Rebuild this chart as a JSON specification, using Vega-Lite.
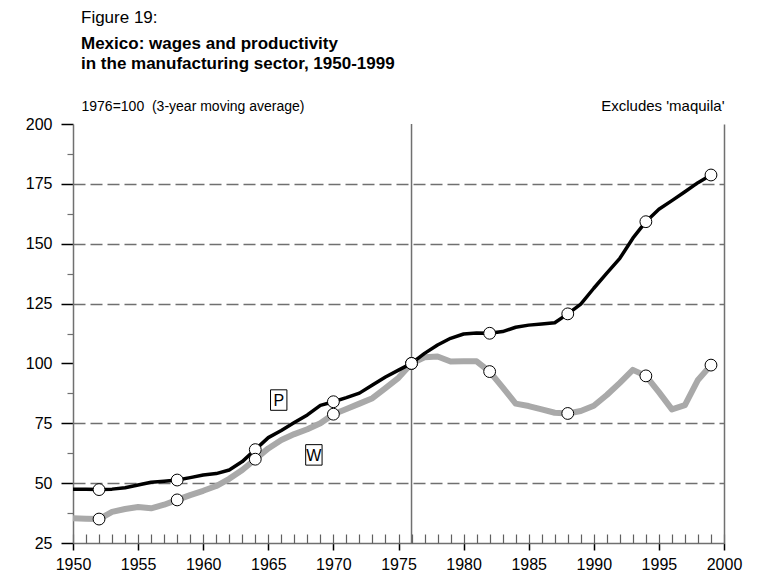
{
  "$schema": "https://vega.github.io/schema/vega-lite/v6.json",
  "width": 651,
  "height": 419,
  "autosize": {"type": "none"},
  "padding": {"left": 73, "top": 124, "right": 53, "bottom": 38},
  "background": "white",
  "config": {
    "font": "Liberation Sans",
    "view": {"stroke": null}
  },
  "title": {
    "text": "Figure 19:",
    "subtitle": ["Mexico: wages and productivity", "in the manufacturing sector, 1950-1999"],
    "anchor": "start",
    "frame": "group",
    "dx": 8,
    "font": "Liberation Sans",
    "subtitleFont": "Liberation Sans",
    "fontSize": 17,
    "fontWeight": "normal",
    "color": "black",
    "subtitleFontSize": 17,
    "subtitleFontWeight": "bold",
    "subtitleColor": "black",
    "subtitlePadding": 9,
    "subtitleLineHeight": 20,
    "offset": 25
  },
  "datasets": {
    "series": [
      {"year": 1950, "series": "P", "value": 47.4}, {"year": 1951, "series": "P", "value": 47.4},
      {"year": 1952, "series": "P", "value": 47.3}, {"year": 1953, "series": "P", "value": 47.5},
      {"year": 1954, "series": "P", "value": 48.1}, {"year": 1955, "series": "P", "value": 49.2},
      {"year": 1956, "series": "P", "value": 50.4}, {"year": 1957, "series": "P", "value": 50.8},
      {"year": 1958, "series": "P", "value": 51.3}, {"year": 1959, "series": "P", "value": 52.3},
      {"year": 1960, "series": "P", "value": 53.4}, {"year": 1961, "series": "P", "value": 54.0},
      {"year": 1962, "series": "P", "value": 55.5}, {"year": 1963, "series": "P", "value": 59.0},
      {"year": 1964, "series": "P", "value": 64.0}, {"year": 1965, "series": "P", "value": 69.0},
      {"year": 1966, "series": "P", "value": 72.0}, {"year": 1967, "series": "P", "value": 75.3},
      {"year": 1968, "series": "P", "value": 78.5}, {"year": 1969, "series": "P", "value": 82.5},
      {"year": 1970, "series": "P", "value": 84.0}, {"year": 1971, "series": "P", "value": 85.7},
      {"year": 1972, "series": "P", "value": 87.6}, {"year": 1973, "series": "P", "value": 91.0},
      {"year": 1974, "series": "P", "value": 94.3}, {"year": 1975, "series": "P", "value": 97.2},
      {"year": 1976, "series": "P", "value": 100.0}, {"year": 1977, "series": "P", "value": 104.2},
      {"year": 1978, "series": "P", "value": 107.7}, {"year": 1979, "series": "P", "value": 110.5},
      {"year": 1980, "series": "P", "value": 112.3}, {"year": 1981, "series": "P", "value": 112.7},
      {"year": 1982, "series": "P", "value": 112.6}, {"year": 1983, "series": "P", "value": 113.3},
      {"year": 1984, "series": "P", "value": 115.1}, {"year": 1985, "series": "P", "value": 116.0},
      {"year": 1986, "series": "P", "value": 116.5}, {"year": 1987, "series": "P", "value": 117.0},
      {"year": 1988, "series": "P", "value": 120.7}, {"year": 1989, "series": "P", "value": 124.8},
      {"year": 1990, "series": "P", "value": 131.4}, {"year": 1991, "series": "P", "value": 137.7},
      {"year": 1992, "series": "P", "value": 143.9}, {"year": 1993, "series": "P", "value": 152.3},
      {"year": 1994, "series": "P", "value": 159.2}, {"year": 1995, "series": "P", "value": 164.4},
      {"year": 1996, "series": "P", "value": 168.0}, {"year": 1997, "series": "P", "value": 171.7},
      {"year": 1998, "series": "P", "value": 175.5}, {"year": 1999, "series": "P", "value": 178.7},
      {"year": 1950, "series": "W", "value": 35.3}, {"year": 1951, "series": "W", "value": 35.1},
      {"year": 1952, "series": "W", "value": 35.0}, {"year": 1953, "series": "W", "value": 38.0},
      {"year": 1954, "series": "W", "value": 39.2}, {"year": 1955, "series": "W", "value": 40.0},
      {"year": 1956, "series": "W", "value": 39.5}, {"year": 1957, "series": "W", "value": 41.0},
      {"year": 1958, "series": "W", "value": 43.0}, {"year": 1959, "series": "W", "value": 45.0},
      {"year": 1960, "series": "W", "value": 46.8}, {"year": 1961, "series": "W", "value": 48.8},
      {"year": 1962, "series": "W", "value": 51.8}, {"year": 1963, "series": "W", "value": 55.5},
      {"year": 1964, "series": "W", "value": 60.0}, {"year": 1965, "series": "W", "value": 64.5},
      {"year": 1966, "series": "W", "value": 68.0}, {"year": 1967, "series": "W", "value": 70.5},
      {"year": 1968, "series": "W", "value": 72.5}, {"year": 1969, "series": "W", "value": 75.0},
      {"year": 1970, "series": "W", "value": 78.8}, {"year": 1971, "series": "W", "value": 81.0},
      {"year": 1972, "series": "W", "value": 83.2}, {"year": 1973, "series": "W", "value": 85.5},
      {"year": 1974, "series": "W", "value": 89.7}, {"year": 1975, "series": "W", "value": 94.0},
      {"year": 1976, "series": "W", "value": 100.0}, {"year": 1977, "series": "W", "value": 102.6},
      {"year": 1978, "series": "W", "value": 102.9}, {"year": 1979, "series": "W", "value": 100.8},
      {"year": 1980, "series": "W", "value": 100.9}, {"year": 1981, "series": "W", "value": 100.9},
      {"year": 1982, "series": "W", "value": 96.6}, {"year": 1983, "series": "W", "value": 90.0},
      {"year": 1984, "series": "W", "value": 83.2}, {"year": 1985, "series": "W", "value": 82.2},
      {"year": 1986, "series": "W", "value": 80.8}, {"year": 1987, "series": "W", "value": 79.4},
      {"year": 1988, "series": "W", "value": 79.1}, {"year": 1989, "series": "W", "value": 80.1},
      {"year": 1990, "series": "W", "value": 82.3}, {"year": 1991, "series": "W", "value": 86.8},
      {"year": 1992, "series": "W", "value": 91.9}, {"year": 1993, "series": "W", "value": 97.3},
      {"year": 1994, "series": "W", "value": 94.8}, {"year": 1995, "series": "W", "value": 88.0},
      {"year": 1996, "series": "W", "value": 80.8}, {"year": 1997, "series": "W", "value": 82.6},
      {"year": 1998, "series": "W", "value": 93.1}, {"year": 1999, "series": "W", "value": 99.3}
    ],
    "labels": [
      {"label": "P", "year": 1965.8, "value": 84.7},
      {"label": "W", "year": 1968.5, "value": 61.8}
    ]
  },
  "layer": [
    {
      "layer": [
        {
          "data": {"name": "series"},
          "transform": [{"filter": "datum.series === 'W' && datum.year === 1976"}],
          "mark": {"type": "rule", "color": "#707070", "strokeWidth": 1.5},
          "encoding": {
            "x": {
              "field": "year", "type": "quantitative",
              "scale": {"domain": [1950, 2000], "nice": false, "zero": false},
              "axis": {
                "values": [1950, 1955, 1960, 1965, 1970, 1975, 1980, 1985, 1990, 1995, 2000],
                "format": "d",
                "labelOverlap": false,
                "labelBound": false,
                "labelFlush": false,
                "labelFontSize": 16,
                "labelColor": "black",
                "labelPadding": 6,
                "title": null,
                "grid": false,
                "domain": true,
                "domainColor": "#707070",
                "domainWidth": 1.5,
                "ticks": true,
                "tickWidth": 1.5,
                "tickSize": 7,
                "tickColor": "black"
              }
            }
          }
        },
        {
          "data": {"name": "series"},
          "transform": [{"filter": "datum.series === 'W'"}],
          "mark": {"type": "line", "color": "#a9a9a9", "strokeWidth": 6, "strokeJoin": "round"},
          "encoding": {
            "x": {"field": "year", "type": "quantitative"},
            "y": {
              "field": "value", "type": "quantitative",
              "scale": {"domain": [25, 200], "nice": false, "zero": false},
              "axis": {
                "values": [25, 50, 75, 100, 125, 150, 175, 200],
                "labelOverlap": false,
                "labelBound": false,
                "labelFlush": false,
                "labelFontSize": 16,
                "labelColor": "black",
                "labelPadding": 9,
                "title": "1976=100\u00a0 (3-year moving average)",
                "titleAngle": 0,
                "titleAlign": "left",
                "titleBaseline": "alphabetic",
                "titleX": 8,
                "titleY": -14,
                "titleFontSize": 14,
                "titleFontWeight": "normal",
                "titleColor": "black",
                "domain": true,
                "domainColor": "#707070",
                "domainWidth": 1.5,
                "ticks": true,
                "tickWidth": 1.5,
                "tickSize": 12,
                "tickColor": "black",
                "grid": true,
                "gridColor": "#707070",
                "gridWidth": 1.5,
                "gridDash": [12, 5],
                "gridOpacity": {"condition": {"test": "datum.value > 25 && datum.value < 200 && datum.value !== 100", "value": 1}, "value": 0}
              }
            }
          }
        },
        {
          "mark": {"type": "rule", "color": "black", "strokeWidth": 1.2},
          "encoding": {"y": {"datum": 100}}
        },
        {
          "mark": {"type": "rule", "color": "#707070", "strokeWidth": 1.5},
          "encoding": {"y": {"datum": 200}}
        },
        {
          "data": {"name": "series"},
          "transform": [{"filter": "datum.series === 'P'"}],
          "mark": {"type": "line", "color": "black", "strokeWidth": 3.5, "strokeJoin": "round"},
          "encoding": {
            "x": {"field": "year", "type": "quantitative"},
            "y": {"field": "value", "type": "quantitative"}
          }
        },
        {
          "data": {"name": "series"},
          "transform": [{"filter": "indexof([1952, 1958, 1964, 1970, 1976, 1982, 1988, 1994, 1999], datum.year) >= 0"}],
          "mark": {"type": "point", "shape": "circle", "filled": true, "fill": "white", "stroke": "black", "strokeWidth": 1, "size": 140, "opacity": 1},
          "encoding": {
            "x": {"field": "year", "type": "quantitative"},
            "y": {"field": "value", "type": "quantitative"}
          }
        },
        {
          "data": {"name": "labels"},
          "mark": {"type": "point", "shape": "M-0.8,-1L0.8,-1L0.8,1L-0.8,1Z", "filled": true, "fill": "white", "stroke": "black", "strokeWidth": 1, "size": 420, "opacity": 1},
          "encoding": {
            "x": {"field": "year", "type": "quantitative"},
            "y": {"field": "value", "type": "quantitative"}
          }
        },
        {
          "data": {"name": "labels"},
          "mark": {"type": "text", "fontSize": 16, "color": "black", "align": "center", "baseline": "middle", "dy": 1},
          "encoding": {
            "x": {"field": "year", "type": "quantitative"},
            "y": {"field": "value", "type": "quantitative"},
            "text": {"field": "label"}
          }
        }
      ]
    },
    {
      "data": {"name": "labels"},
      "mark": {"type": "point", "opacity": 0},
      "encoding": {
        "y": {
          "field": "value", "type": "quantitative",
          "scale": {"domain": [25, 200], "nice": false, "zero": false},
          "axis": {
            "orient": "right",
            "ticks": false, "labels": false, "domain": true, "domainColor": "#707070", "domainWidth": 1.5, "grid": false,
            "title": "Excludes 'maquila'",
            "titleAngle": 0,
            "titleAlign": "right",
            "titleBaseline": "alphabetic",
            "titleX": 0,
            "titleY": -14,
            "titleFontSize": 15,
            "titleFontWeight": "normal",
            "titleColor": "black"
          }
        }
      }
    },
    {
      "data": {"name": "labels"},
      "mark": {"type": "point", "opacity": 0},
      "encoding": {
        "x": {
          "field": "year", "type": "quantitative",
          "scale": {"domain": [1950, 2000], "nice": false, "zero": false},
          "axis": {
            "orient": "bottom",
            "values": [1950,1951,1952,1953,1954,1955,1956,1957,1958,1959,1960,1961,1962,1963,1964,1965,1966,1967,1968,1969,1970,1971,1972,1973,1974,1975,1976,1977,1978,1979,1980,1981,1982,1983,1984,1985,1986,1987,1988,1989,1990,1991,1992,1993,1994,1995,1996,1997,1998,1999,2000],
            "labels": false, "domain": false, "grid": false, "title": null,
            "ticks": true, "tickSize": -9, "tickWidth": 1.2, "tickColor": "#606060"
          }
        },
        "y": {
          "field": "value", "type": "quantitative",
          "scale": {"domain": [25, 200], "nice": false, "zero": false},
          "axis": {
            "orient": "left",
            "values": [37.5, 62.5, 87.5, 112.5, 137.5, 162.5, 187.5],
            "labels": false, "domain": false, "grid": false, "title": null,
            "ticks": true, "tickSize": 6, "tickWidth": 1.2, "tickColor": "#707070"
          }
        }
      }
    }
  ],
  "resolve": {"scale": {"x": "independent", "y": "independent"}}
}
